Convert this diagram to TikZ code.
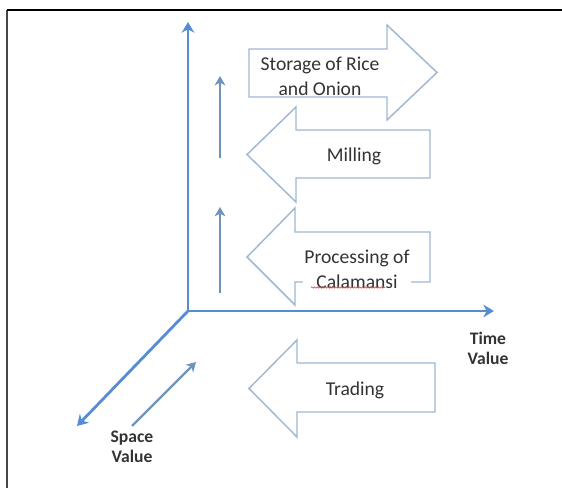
\documentclass[tikz,border=0pt]{standalone}
\usepackage{fontspec}
\setmainfont{Carlito}
\usetikzlibrary{arrows.meta,decorations.pathmorphing}
\definecolor{axisblue}{RGB}{84,141,212}
\definecolor{stepblue}{RGB}{110,148,188}
\definecolor{outline}{RGB}{160,184,208}
\definecolor{ink}{RGB}{51,51,51}
\definecolor{frame}{RGB}{70,70,70}
\tikzset{
  axis/.style={draw=axisblue, line width=2.1pt, -{Stealth[length=8pt,width=9.5pt,inset=2.5pt]}},
  riser/.style={draw=stepblue, line width=1.8pt, -{Stealth[length=7pt,width=8pt,inset=2pt]}},
  blockarrow/.style={draw=outline, line width=1.1pt, fill=white, line join=miter},
  label/.style={font=\fontsize{14.7}{18.5}\selectfont, text=ink, align=center, inner sep=1pt},
  axislabel/.style={font=\fontsize{13.2}{15}\selectfont\bfseries, text=ink, align=center, inner sep=0pt}
}
\begin{document}
\begin{tikzpicture}[x=0.75pt,y=-0.75pt]
\useasboundingbox (0,0) rectangle (562,488);

% page frame (top and left edges)
\draw[frame, line width=1.5pt] (7,488) -- (7,10);
\draw[black, line width=1pt] (7,10) -- (562,10);

% three value axes from a common origin
\coordinate (o) at (188,311);
\coordinate (up) at (188,22);
\coordinate (right) at (494,311);
\coordinate (down) at (77,426);
\draw[axis] (o) -- (up);
\draw[axis] (o) -- (right);
\draw[axis] (o) -- (down);

% small risers between the activity arrows
\coordinate (r1a) at (220,158);
\coordinate (r1b) at (220,76);
\coordinate (r2a) at (220,293);
\coordinate (r2b) at (220,207);
\draw[riser] (r1a) -- (r1b);
\draw[riser] (r2a) -- (r2b);

% diagonal arrow toward the space axis
\coordinate (s1) at (132,426);
\coordinate (s2) at (196,362);
\draw[riser] (s1) -- (s2);

% activity block arrows
\draw[blockarrow] (249,49) -- (387,49) -- (387,25) -- (437,72.5) -- (387,120) -- (387,97) -- (249,97) -- cycle;
\draw[blockarrow] (430,130) -- (296,130) -- (296,107) -- (247,154.5) -- (296,202) -- (296,178) -- (430,178) -- cycle;
\draw[blockarrow] (430,232) -- (295,232) -- (295,208) -- (247,257) -- (295,305) -- (295,282) -- (430,282) -- cycle;
\draw[blockarrow] (435,363) -- (297,363) -- (297,340) -- (249,388.5) -- (297,437) -- (297,412) -- (435,412) -- cycle;

\node[label] (storage) at (320,76) {Storage of Rice\\and Onion};
\node[label] (milling) at (354,156) {Milling};
\node[label, fill=white] (processing) at (357,269) {Processing of\\Calamansi};
\node[label] (trading) at (355,390) {Trading};

% spelling mark under the second line
\draw[red!75, line width=0.5pt, decorate, decoration={snake, amplitude=0.5pt, segment length=2pt}]
  (311,287.5) -- (385,287.5);

\node[axislabel] (time) at (488,348) {Time\\Value};
\node[axislabel] (space) at (132,447) {Space\\Value};
\end{tikzpicture}
\end{document}
